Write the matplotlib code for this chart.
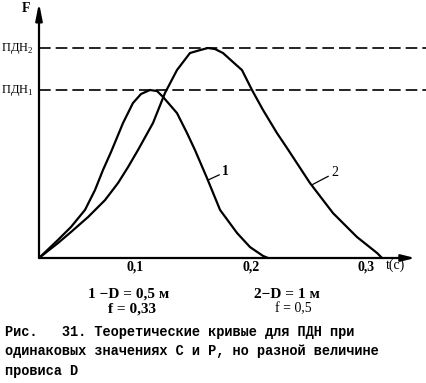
import matplotlib
matplotlib.use("Agg")
import matplotlib.pyplot as plt

# curve 1: D = 0,5 m, f = 0,33  (t in s, F relative to PDN2)
t1 = [0, 0.0174, 0.0294, 0.0422, 0.0514, 0.0587, 0.0661, 0.0771, 0.0862, 0.0936,
      0.1018, 0.1083, 0.1138, 0.1266, 0.1358, 0.1431, 0.1541, 0.1661, 0.1817,
      0.1936, 0.2055, 0.2101]
F1 = [0, 0.086, 0.148, 0.229, 0.324, 0.419, 0.505, 0.643, 0.738, 0.781,
      0.800, 0.795, 0.767, 0.690, 0.595, 0.514, 0.381, 0.229, 0.119,
      0.052, 0.010, 0]

# curve 2: D = 1 m, f = 0,5
t2 = [0, 0.0174, 0.0294, 0.0450, 0.0606, 0.0725, 0.0817, 0.0908, 0.1046, 0.1156,
      0.1266, 0.1385, 0.1477, 0.1550, 0.1615, 0.1688, 0.1780, 0.1862, 0.1954,
      0.2055, 0.2183, 0.2275, 0.2486, 0.2697, 0.2917, 0.3101, 0.3147]
F2 = [0, 0.071, 0.124, 0.195, 0.276, 0.357, 0.433, 0.514, 0.643, 0.786,
      0.895, 0.976, 0.990, 1.000, 0.995, 0.976, 0.933, 0.895, 0.800,
      0.705, 0.595, 0.524, 0.357, 0.214, 0.100, 0.024, 0]

pdn_levels = [0.80, 1.00]
pdn_labels = ["ПДН$_1$", "ПДН$_2$"]
tick_pos = [0.088, 0.195, 0.300]
tick_labels = ["0,1", "0,2", "0,3"]

W, H = 427, 383
plt.rcParams["mathtext.fontset"] = "custom"
plt.rcParams["mathtext.rm"] = "Liberation Serif"
serif = "Liberation Serif"

fig = plt.figure(figsize=(W / 100, H / 100), dpi=100)
fig.patch.set_facecolor("white")

def fx(x):
    return x / W

def fy(y):
    return 1 - y / H

# axes origin at pixel (39, 258)
ax = fig.add_axes([fx(39), fy(258), 1 - fx(39), 258 / H])
ax.set_xlim(0, 388 / 1090)
ax.set_ylim(0, 258 / 210)
for s in ax.spines.values():
    s.set_visible(False)
ax.set_facecolor("none")

# axis arrows
ax.annotate("", xy=(0.345, 0), xytext=(0, 0),
            arrowprops=dict(arrowstyle="-|>,head_length=0.8,head_width=0.2",
                            color="black", lw=1.6, shrinkA=0, shrinkB=0),
            annotation_clip=False)
ax.annotate("", xy=(0, 1.215), xytext=(0, 0),
            arrowprops=dict(arrowstyle="-|>,head_length=1.0,head_width=0.2",
                            color="black", lw=1.6, shrinkA=0, shrinkB=0),
            annotation_clip=False)

# PDN levels
for lvl, lab in zip(pdn_levels, pdn_labels):
    ax.axhline(lvl, color="black", lw=1.2, ls=(0, (7, 3)))
    ax.text(-0.035, lvl, lab, fontsize=9, family=serif, ha="left", va="center",
            clip_on=False)

ax.plot(t1, F1, color="black", lw=1.6)
ax.plot(t2, F2, color="black", lw=1.6)

# curve labels
ax.annotate("1", xy=(0.155, 0.371), xytext=(0.168, 0.41), fontsize=10,
            family=serif, fontweight="bold", va="center",
            arrowprops=dict(arrowstyle="-", color="black", lw=0.9, shrinkA=0, shrinkB=0))
ax.annotate("2", xy=(0.251, 0.350), xytext=(0.268, 0.405), fontsize=10,
            family=serif, va="center",
            arrowprops=dict(arrowstyle="-", color="black", lw=0.9, shrinkA=0, shrinkB=0))

ax.set_xticks(tick_pos)
ax.set_xticklabels(tick_labels, fontsize=10, family=serif, fontweight="bold")
ax.set_yticks([])
ax.tick_params(axis="x", length=0, pad=2)

ax.text(0.318, -0.033, "t(c)", fontsize=10, family=serif, ha="left", va="center",
        clip_on=False)
fig.text(fx(30), fy(12), "F", fontsize=10, family=serif, fontweight="bold",
         ha="right", va="baseline")

# parameter notes below the axis
fig.text(fx(129), fy(294), "1 −D = 0,5 м", fontsize=11, family=serif,
         fontweight="bold", ha="center", va="center")
fig.text(fx(132), fy(309), "f = 0,33", fontsize=11, family=serif,
         fontweight="bold", ha="center", va="center")
fig.text(fx(287), fy(294), "2−D = 1 м", fontsize=11, family=serif,
         fontweight="bold", ha="center", va="center")
fig.text(fx(293), fy(309), "f = 0,5", fontsize=10, family=serif,
         ha="center", va="center")

# caption
caption = ["Рис.   31. Теоретические кривые для ПДН при",
           "одинаковых значениях C и P, но разной величине",
           "провиса D"]
for i, line in enumerate(caption):
    fig.text(fx(5), fy(332 + 19.5 * i), line, fontsize=9.8,
             family="Liberation Mono", fontweight="bold", ha="left", va="center")

fig.savefig("out.png", dpi=100, facecolor="white")
